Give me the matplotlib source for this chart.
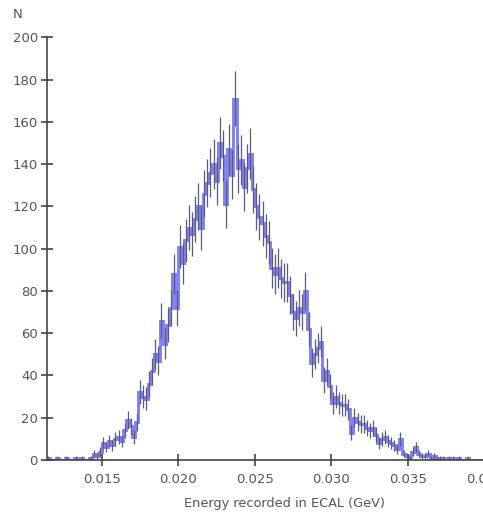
import numpy as np
import matplotlib
matplotlib.use("Agg")
import matplotlib.pyplot as plt

bin_start = 0.0110
bin_width = 0.0002
counts = [
    0, 0, 1, 0, 0,            # 0.011
    1, 0, 0, 1, 0,            # 0.012
    0, 1, 0, 1, 0,            # 0.013
    0, 1, 3, 2, 4,            # 0.014
    8, 6, 9, 7, 10,           # 0.015
    11, 9, 14, 19, 16,        # 0.016
    11, 18, 32, 30, 29,       # 0.017
    36, 42, 50, 47, 66,       # 0.018
    55, 64, 72, 88, 72,       # 0.019
    101, 93, 104, 110, 107,   # 0.020
    114, 120, 110, 126, 131,  # 0.021
    136, 140, 132, 150, 144,  # 0.022
    121, 147, 135, 171, 138,  # 0.023
    142, 129, 138, 145, 128,  # 0.024
    120, 115, 112, 106, 103,  # 0.025
    91, 88, 91, 86, 84,       # 0.026
    84, 78, 70, 67, 72,       # 0.027
    70, 80, 62, 46, 50,       # 0.028
    53, 56, 38, 42, 35,       # 0.029
    27, 30, 27, 26, 26,       # 0.030
    24, 13, 20, 18, 17,       # 0.031
    17, 15, 14, 15, 12,       # 0.032
    8, 10, 11, 9, 8,          # 0.033
    7, 5, 10, 3, 2,           # 0.034
    1, 4, 6, 3, 2,            # 0.035
    2, 3, 1, 2, 1,            # 0.036
    1, 1, 0, 1, 1,            # 0.037
    0, 1, 0, 0, 1,            # 0.038
    0, 0, 0, 0, 0,            # 0.039
]
x_ticks = [0.015, 0.020, 0.025, 0.030, 0.035, 0.040]
x_tick_labels = ["0.015", "0.020", "0.025", "0.030", "0.035", "0.040"]
y_ticks = [0, 20, 40, 60, 80, 100, 120, 140, 160, 180, 200]
x_label = "Energy recorded in ECAL (GeV)"
y_label = "N"

counts = np.array(counts, dtype=float)
edges = bin_start + bin_width * np.arange(len(counts) + 1)
centers = 0.5 * (edges[:-1] + edges[1:])
errs = np.sqrt(counts)

W, H = 483, 516
fig = plt.figure(figsize=(W / 100, H / 100), dpi=100)
ax_left, ax_right = 47, 489.3
ax_bottom, ax_top = 460, 37.3
ax = fig.add_axes([ax_left / W, 1 - ax_bottom / H,
                   (ax_right - ax_left) / W, (ax_bottom - ax_top) / H])

ax.stairs(counts, edges, color="#7272f2", lw=2.1, alpha=0.9)
mask = counts > 0
ax.errorbar(centers[mask], counts[mask], yerr=errs[mask], fmt="none",
            ecolor="#5a5a7a", elinewidth=0.9, capsize=0)

ax.set_xlim(0.01143, 0.0403)
ax.set_ylim(0, 200)
ax.set_xticks(x_ticks)
ax.set_xticklabels(x_tick_labels)
ax.set_yticks(y_ticks)

for s in ["top", "right"]:
    ax.spines[s].set_visible(False)
for s in ["left", "bottom"]:
    ax.spines[s].set_color("#444444")
    ax.spines[s].set_linewidth(1.2)

ax.tick_params(axis="both", direction="inout", length=9, width=1.2,
               color="#444444", labelcolor="#555555", labelsize=9.5)
ax.tick_params(axis="x", pad=5)
ax.tick_params(axis="y", pad=2)

fig.text(284 / W, 1 - 503 / H, x_label, ha="center", va="center",
         fontsize=9.3, color="#555555")
fig.text(18 / W, 1 - 14 / H, y_label, ha="center", va="center",
         fontsize=9.5, color="#555555")

fig.savefig("out.png", dpi=100)
